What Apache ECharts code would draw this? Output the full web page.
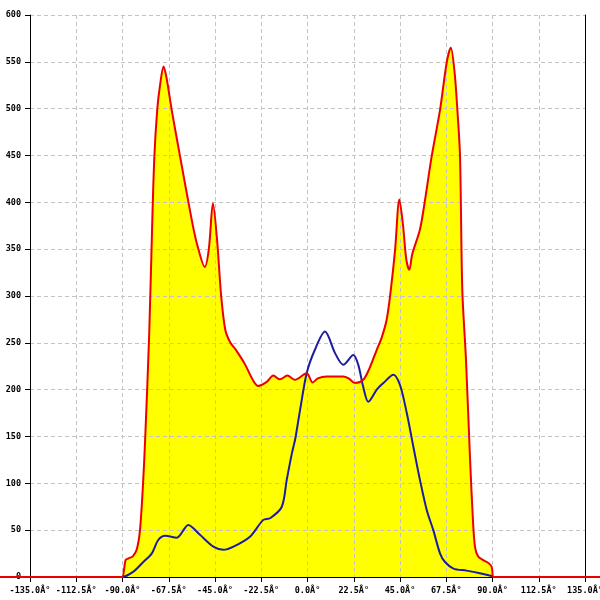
<!DOCTYPE html>
<html>
<head>
<meta charset="utf-8">
<script src="https://cdn.jsdelivr.net/npm/echarts@6/dist/echarts.min.js"></script>
<style>html,body{margin:0;padding:0;background:#fff}#c{width:600px;height:600px}</style>
</head>
<body>
<div id="c"></div>
<script>
// Red (filled) series: angle in degrees, value
var redAngles = [-180,-91,-90,-88.5,-87,-85,-83,-81.5,-80,-79,-77,-75.5,-74.5,-73.1,-71.8,-70,-68.5,-66.1,-62,-56.3,-53.7,-50,-48,-46,-44,-42,-40,-37.5,-35,-30.4,-26.5,-24,-20,-16.6,-13.4,-9.8,-6.1,-0.4,2.5,5,9.3,17.4,20,23.1,27.1,30,33.7,36,38.5,40.5,42.6,44.7,46.5,48,49.5,51,54.7,57,60.4,64.5,67.7,69.7,71.5,72.9,74.2,75.3,77.1,79.1,80.5,81.5,83,85.5,88,89.6,90.3,91,180];
var redValues = [0,0,0,18,20,22,30,50,100,146,260,381,449,499,524,545,532,499,449,381,355,331,350,399,360,300,264,250,243,227,210,204,208,215,211,215,210.5,217.6,207.7,212,214,214,212,207,210.5,222,242.6,255,274.6,306,349,403,375,340,328,345,371,400,449,499,549,565,540,499,449,307,232,125,60,32,22,18,15,11,0,0,0];
// Blue series
var blueAngles = [-180,-91,-90.2,-84.7,-79.9,-75.8,-72.6,-69.3,-63.6,-58,-52.3,-45.8,-40.9,-36,-28,-21.5,-18.2,-12.5,-10.1,-7.6,-6,-3.6,-0.4,3.6,8.5,13.4,17.4,22.3,24.7,27.1,29.6,33.7,36.9,41.8,45,48.3,51.5,54.7,58,61.2,64.5,66.9,71,77.4,83.9,89.6,90.5,91,180];
var blueValues = [0,0,0,5.7,16,25,39.5,44,42,55.6,45,32.4,29,32.4,43,61,62.7,75,103.7,132,147,178.5,217.6,242.6,262,239,226.5,237,226.5,203,187,200,207,216,205,175,139,103.7,71.6,50,25,16,9,6.8,4,1,0,0,0];
var xTicks = {min:-135, max:135, interval:22.5};
var yTicks = {min:0, max:600, interval:50};

function pairs(xs, ys){ return xs.map(function(x,i){ return [x, ys[i]]; }); }

var W = 600, G = {left:30, right:15, top:15, bottom:23};
// the data lines run across the whole canvas width (not clipped at the axes)
var degPerPx = (xTicks.max - xTicks.min) / (W - G.left - G.right);
var fullMin = xTicks.min - G.left * degPerPx;
var fullMax = xTicks.max + G.right * degPerPx;

var chart = echarts.init(document.getElementById('c'), null, {renderer:'canvas'});
var labelFont = {fontFamily:'DejaVu Sans Mono', fontSize:8.5, fontWeight:'bold', color:'#000'};
var split = {show:true, lineStyle:{color:'#c4c4c4', type:[4,3], width:1}};
var redData = pairs(redAngles, redValues);
chart.setOption({
  animation:false,
  backgroundColor:'#fff',
  grid:[
    {left:G.left, right:G.right, top:G.top, bottom:G.bottom, containLabel:false, outerBoundsMode:'none'},
    {left:0, right:0, top:G.top, bottom:G.bottom, containLabel:false, outerBoundsMode:'none'}
  ],
  xAxis:[{
    gridIndex:0, z:2, type:'value', min:xTicks.min, max:xTicks.max, interval:xTicks.interval,
    axisLine:{show:true, onZero:false, lineStyle:{color:'#000', width:1}},
    axisTick:{show:true, length:5, lineStyle:{color:'#000'}},
    axisLabel:Object.assign({margin:9, showMinLabel:true, showMaxLabel:true, hideOverlap:false,
      formatter:function(v){ return v.toFixed(1) + '\u00c2\u00b0'; }}, labelFont),
    splitLine:split
  },{
    gridIndex:1, type:'value', min:fullMin, max:fullMax, show:false,
    axisLine:{onZero:false}, splitLine:{show:false}
  }],
  yAxis:[{
    gridIndex:0, z:2, type:'value', min:yTicks.min, max:yTicks.max, interval:yTicks.interval, position:'left',
    axisLine:{show:true, onZero:false, lineStyle:{color:'#000', width:1}},
    axisTick:{show:true, length:5, lineStyle:{color:'#000'}},
    axisLabel:Object.assign({margin:9}, labelFont),
    splitLine:split
  },{
    gridIndex:0, z:2, type:'value', min:yTicks.min, max:yTicks.max, interval:yTicks.interval, position:'right',
    axisLine:{show:true, onZero:false, lineStyle:{color:'#000', width:1}},
    axisTick:{show:false}, axisLabel:{show:false}, splitLine:{show:false}
  },{
    gridIndex:1, type:'value', min:yTicks.min, max:yTicks.max, show:false,
    axisLine:{onZero:false}, splitLine:{show:false}
  }],
  series:[{
    type:'line', xAxisIndex:1, yAxisIndex:2, data:redData, clip:false, smooth:0.3,
    symbol:'none', z:1, silent:true,
    lineStyle:{width:0, opacity:0, color:'#ffff00'},
    areaStyle:{color:'#ffff00', opacity:1}
  },{
    type:'line', xAxisIndex:1, yAxisIndex:2, data:pairs(blueAngles, blueValues), clip:false, smooth:0.3,
    symbol:'none', z:3,
    lineStyle:{color:'#1c1ca0', width:2}
  },{
    type:'line', xAxisIndex:1, yAxisIndex:2, data:redData, clip:false, smooth:0.3,
    symbol:'none', z:4,
    lineStyle:{color:'#ee0000', width:2}
  }]
});
</script>
</body>
</html>
